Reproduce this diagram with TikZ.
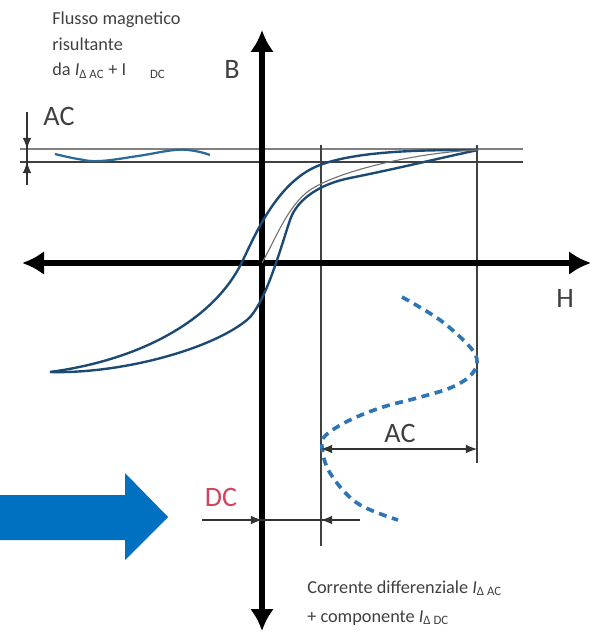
\documentclass[tikz,border=0pt]{standalone}
\usepackage{fontspec}
\setmainfont{Carlito}
\usetikzlibrary{positioning,arrows.meta,calc}
\definecolor{loopblue}{HTML}{1C4A73}
\definecolor{dashblue}{HTML}{2E75B6}
\definecolor{waveblue}{HTML}{2A6B96}
\definecolor{bigblue}{HTML}{0070C0}
\definecolor{dcred}{HTML}{D0465F}
\definecolor{txtgray}{HTML}{404040}

\begin{document}
\begin{tikzpicture}[x=0.25mm, y=-0.25mm, >=Latex,
  axis/.style={line width=3.6pt, -{Latex[length=5.5mm,width=6mm]}},
  thin/.style={line width=0.9pt, black!75},
  dim/.style={line width=0.8pt, black!80},
  dimtip/.style={dim, -{Latex[length=2.8mm,width=2.2mm]}},
  loopline/.style={line width=1.7pt, loopblue},
  lbl/.style={font=\fontsize{20}{24}\selectfont, txtgray, inner sep=0pt},
  note/.style={font=\fontsize{13}{18.2}\selectfont, txtgray, inner sep=0pt, align=left}]
  \useasboundingbox (0,0) rectangle (592,632);

  \coordinate (O) at (262,263);
  \coordinate (Btop) at (262,30);  \coordinate (Bbot) at (262,631);
  \coordinate (Hleft) at (22,263); \coordinate (Hright) at (591,263);
  \coordinate (tipR) at (478,150); \coordinate (tipL) at (50,372);

  % saturation levels and projection lines
  \coordinate (L1a) at (20,149); \coordinate (L1b) at (523,149);
  \coordinate (L2a) at (20,162); \coordinate (L2b) at (523,162);
  \coordinate (Va) at (321,145);  \coordinate (Vb) at (321,546);
  \coordinate (Wa) at (477,145);  \coordinate (Wb) at (477,463);
  \draw[line width=1pt, black!50] (L1a) -- (L1b);
  \draw[thin] (L2a) -- (L2b);
  \draw[thin] (Va) -- (Vb);
  \draw[thin] (Wa) -- (Wb);

  \draw[axis] (O) -- (Btop);
  \draw[axis] (O) -- (Bbot);
  \draw[axis] (O) -- (Hright);
  \draw[axis] (O) -- (Hleft);

  % hysteresis loop
  \draw[loopline] (tipL) .. controls (140,360) and (215,320) .. (243,260)
    .. controls (258,228) and (280,180) .. (320,165)
    .. controls (360,150) and (430,150) .. (tipR);
  \draw[loopline] (tipL) .. controls (120,374) and (210,350) .. (247,320)
    .. controls (265,305) and (280,250) .. (290,220)
    .. controls (297,199) and (320,184) .. (350,178)
    .. controls (400,168) and (440,158) .. (tipR);
  \draw[line width=0.8pt, black!55] (O) .. controls (275,240) and (288,205) .. (310,190)
    .. controls (340,170) and (420,152) .. (tipR);

  % excitation and resulting flux
  \draw[line width=2.6pt, dashblue, dash pattern=on 2mm off 1.4mm] plot[smooth, tension=0.6] coordinates {(402,297) (440,320) (470,347) (477,362) (470,376) (450,388) (417,398) (383,407) (350,420) (326,435) (322,447) (330,473) (357,503) (398,520)};
  \draw[line width=1.6pt, waveblue] plot[smooth, tension=0.7] coordinates {(55,154) (78,159) (100,161) (138,156) (175,150) (195,151) (210,155)};

  % dimension marks
  \coordinate (dA) at (27,112);  \coordinate (dB) at (27,185);
  \coordinate (dT1) at (27,149); \coordinate (dT2) at (27,162);
  \draw[dim] (dA) -- (dB);
  \draw[dimtip] (dA) -- (dT1);
  \draw[dimtip] (dB) -- (dT2);
  \coordinate (acL) at (321,449); \coordinate (acR) at (477,449);
  \draw[dim, {Latex[length=2.8mm,width=2.2mm]}-{Latex[length=2.8mm,width=2.2mm]}] (acL) -- (acR);
  \coordinate (dcA) at (202,520); \coordinate (dcB) at (360,520);
  \coordinate (dcT1) at (262,520); \coordinate (dcT2) at (321,520);
  \draw[dim] (dcA) -- (dcB);
  \draw[dimtip] (dcA) -- (dcT1);
  \draw[dimtip] (dcB) -- (dcT2);

  \fill[bigblue] (0,495) -- (125,495) -- (125,473) -- (168,517) -- (125,560) -- (125,540) -- (0,540) -- cycle;

  \node[lbl] (B) at (232,69) {B};
  \node[lbl] (H) at (565,298) {H};
  \node[lbl] (ACtop) at (59,116) {AC};
  \node[lbl] (ACmid) at (400,433) {AC};
  \node[lbl, text=dcred] (DC) at (221,497) {DC};
  \node[note, anchor=base west] (flux) at (52,76) {Flusso magnetico\\risultante\\da \textit{I}\textsubscript{Δ AC} + I\hspace{1.3em}\textsubscript{DC}};
  \node[note, anchor=base west, font=\fontsize{13}{20.6}\selectfont] (curr) at (307,622) {Corrente differenziale \textit{I}\textsubscript{Δ AC}\\+ componente \textit{I}\textsubscript{Δ DC}};
\end{tikzpicture}
\end{document}
